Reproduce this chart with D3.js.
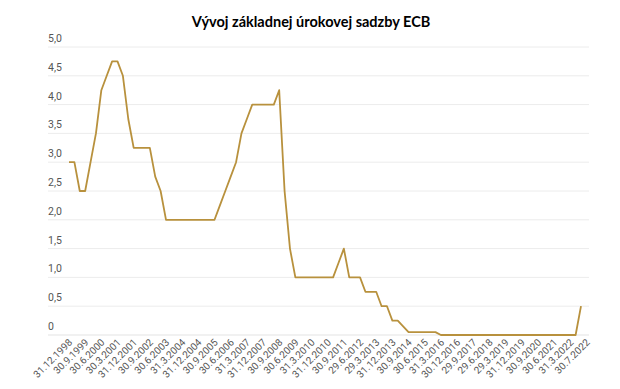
<!DOCTYPE html>
<html>
<head>
<meta charset="utf-8">
<script src="https://cdn.jsdelivr.net/npm/d3@7"></script>
<style>
  body { margin: 0; background: #fff; }
  svg text { font-family: Roboto, "Noto Sans", sans-serif; }
</style>
</head>
<body>
<svg id="chart" width="620" height="389"></svg>
<script>
// quarter-end dates, 31.12.1998 .. 30.7.2022
const dates = [
  "31.12.1998","31.3.1999","30.6.1999","30.9.1999","31.12.1999","31.3.2000","30.6.2000","29.9.2000",
  "29.12.2000","30.3.2001","29.6.2001","28.9.2001","31.12.2001","29.3.2002","28.6.2002","30.9.2002",
  "31.12.2002","31.3.2003","30.6.2003","30.9.2003","31.12.2003","31.3.2004","30.6.2004","30.9.2004",
  "31.12.2004","31.3.2005","30.6.2005","30.9.2005","30.12.2005","31.3.2006","30.6.2006","29.9.2006",
  "29.12.2006","31.3.2007","29.6.2007","28.9.2007","31.12.2007","31.3.2008","30.6.2008","30.9.2008",
  "31.12.2008","31.3.2009","30.6.2009","30.9.2009","31.12.2009","31.3.2010","30.6.2010","30.9.2010",
  "31.12.2010","31.3.2011","30.6.2011","30.9.2011","30.12.2011","30.3.2012","29.6.2012","28.9.2012",
  "31.12.2012","29.3.2013","28.6.2013","30.9.2013","31.12.2013","31.3.2014","30.6.2014","30.9.2014",
  "31.12.2014","31.3.2015","30.6.2015","30.9.2015","31.12.2015","31.3.2016","30.6.2016","30.9.2016",
  "30.12.2016","31.3.2017","30.6.2017","29.9.2017","29.12.2017","29.3.2018","29.6.2018","28.9.2018",
  "31.12.2018","29.3.2019","28.6.2019","30.9.2019","31.12.2019","31.3.2020","30.6.2020","30.9.2020",
  "31.12.2020","31.3.2021","30.6.2021","30.9.2021","31.12.2021","31.3.2022","30.6.2022","30.7.2022"
];

const rates = [
  3.0, 3.0, 2.5, 2.5, 3.0, 3.5, 4.25, 4.5,
  4.75, 4.75, 4.5, 3.75, 3.25, 3.25, 3.25, 3.25,
  2.75, 2.5, 2.0, 2.0, 2.0, 2.0, 2.0, 2.0,
  2.0, 2.0, 2.0, 2.0, 2.25, 2.5, 2.75, 3.0,
  3.5, 3.75, 4.0, 4.0, 4.0, 4.0, 4.0, 4.25,
  2.5, 1.5, 1.0, 1.0, 1.0, 1.0, 1.0, 1.0,
  1.0, 1.0, 1.25, 1.5, 1.0, 1.0, 1.0, 0.75,
  0.75, 0.75, 0.5, 0.5, 0.25, 0.25, 0.15, 0.05,
  0.05, 0.05, 0.05, 0.05, 0.05, 0, 0, 0,
  0, 0, 0, 0, 0, 0, 0, 0,
  0, 0, 0, 0, 0, 0, 0, 0,
  0, 0, 0, 0, 0, 0, 0, 0.5
];

const yTicks = [0, 0.5, 1, 1.5, 2, 2.5, 3, 3.5, 4, 4.5, 5];
const title = "Vývoj základnej úrokovej sadzby ECB";

const svg = d3.select("#chart");

const x = d3.scalePoint().domain(dates).range([69, 581]);
const y = d3.scaleLinear().domain([0, 5]).range([335, 47]);

// title
svg.append("text")
  .attr("x", 311)
  .attr("y", 27)
  .attr("text-anchor", "middle")
  .style("font-family", "Lato, 'Open Sans', sans-serif")
  .style("font-weight", "bold")
  .style("font-size", "14.5px")
  .style("fill", "#000")
  .text(title);

// gridlines
svg.append("g").selectAll("line")
  .data(yTicks)
  .enter().append("line")
  .attr("x1", 48).attr("x2", 589)
  .attr("y1", d => y(d)).attr("y2", d => y(d))
  .attr("stroke", d => d === 0 ? "#e3e3e3" : "#ececec")
  .attr("stroke-width", 1);

// y labels sit above their gridline
svg.append("g").selectAll("text")
  .data(yTicks)
  .enter().append("text")
  .attr("x", 48)
  .attr("y", d => y(d) - 5)
  .style("font-size", "10.5px")
  .style("fill", "#555")
  .text(d => d === 0 ? "0" : d3.format(".1f")(d).replace(".", ","));

// x labels, every third quarter plus the last one
// (last label keeps the regular 3-step spacing like the original)
const shown = dates.filter((d, i) => i % 3 === 0 || i === dates.length - 1);
svg.append("g").selectAll("text")
  .data(shown)
  .enter().append("text")
  .attr("transform", (d, k) => "translate(" + (x(dates[0]) + k * 3 * x.step() + 4) + ",343) rotate(-45)")
  .attr("text-anchor", "end")
  .style("font-size", "10px")
  .style("fill", "#555")
  .text(d => d);

// the line
const line = d3.line()
  .x((d, i) => x(dates[i]))
  .y(d => y(d));

svg.append("path")
  .datum(rates)
  .attr("d", line)
  .attr("fill", "none")
  .attr("stroke", "#b8913d")
  .attr("stroke-width", 1.8)
  .attr("stroke-linejoin", "round");
</script>
</body>
</html>
